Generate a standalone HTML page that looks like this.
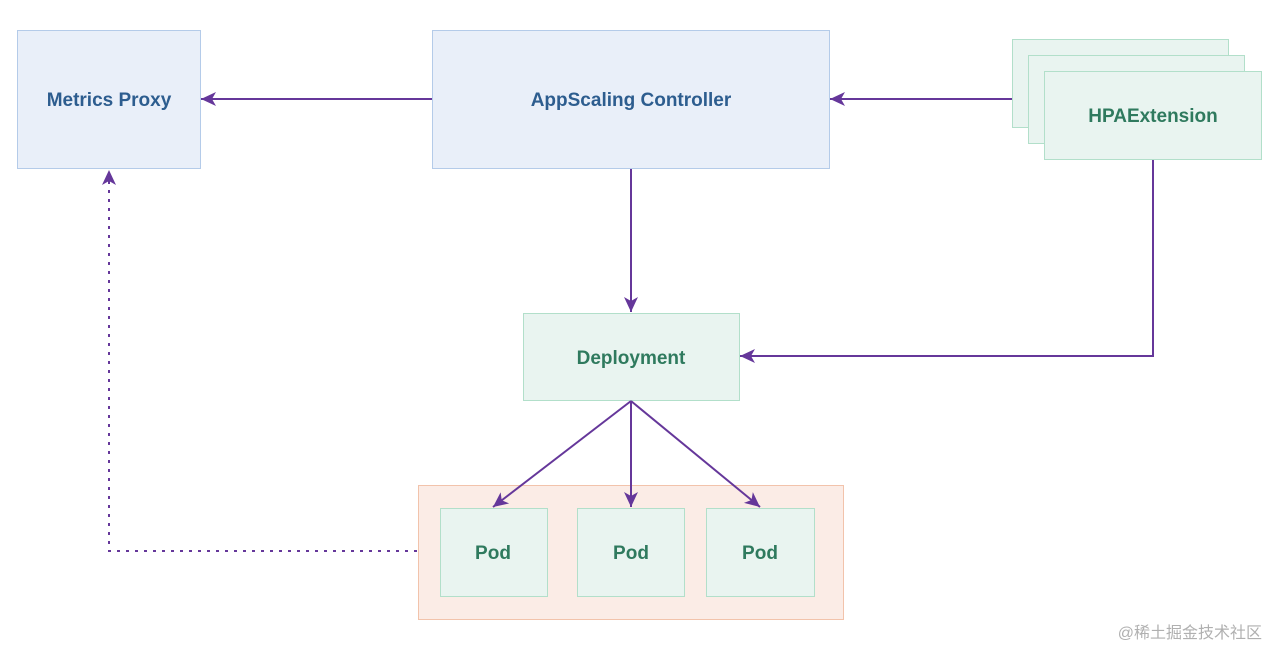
<!DOCTYPE html>
<html><head><meta charset="utf-8"><style>
html,body{margin:0;padding:0;background:#fff;width:1280px;height:661px;overflow:hidden}
text{font-family:"Liberation Sans","DejaVu Sans",sans-serif;font-weight:bold;font-size:19px}
</style></head><body>
<svg width="1280" height="661" viewBox="0 0 1280 661" xmlns="http://www.w3.org/2000/svg">
<defs><marker id="a" markerWidth="10" markerHeight="10" refX="9" refY="5" orient="auto" markerUnits="userSpaceOnUse"><path d="M0,0 L10,5 L0,10 L3,5 Z" fill="#65379a"/></marker>
<marker id="b" markerWidth="16" markerHeight="16" refX="15" refY="7" orient="auto" markerUnits="userSpaceOnUse"><path d="M0,0 L15,7 L0,14 L4,7 Z" fill="#65379a"/></marker></defs>
<rect x="17.5" y="30.5" width="183" height="138" fill="#e9eff9" stroke="#b4cbe9"/>
<text x="109" y="106" text-anchor="middle" fill="#2d5d8f">Metrics Proxy</text>
<rect x="432.5" y="30.5" width="397" height="138" fill="#e9eff9" stroke="#b4cbe9"/>
<text x="631" y="106" text-anchor="middle" fill="#2d5d8f">AppScaling Controller</text>
<rect x="1012.5" y="39.5" width="216" height="88" fill="#e9f4f0" stroke="#b2dfca"/>
<rect x="1028.5" y="55.5" width="216" height="88" fill="#e9f4f0" stroke="#b2dfca"/>
<rect x="1044.5" y="71.5" width="217" height="88" fill="#e9f4f0" stroke="#b2dfca"/>
<text x="1153" y="122" text-anchor="middle" fill="#2f7a5e">HPAExtension</text>
<rect x="523.5" y="313.5" width="216" height="87" fill="#e9f4f0" stroke="#b2dfca"/>
<text x="631" y="364" text-anchor="middle" fill="#2f7a5e">Deployment</text>
<rect x="418.5" y="485.5" width="425" height="134" fill="#fbece6" stroke="#f2c3ab"/>
<rect x="440.5" y="508.5" width="107" height="88" fill="#e9f4f0" stroke="#b2dfca"/>
<rect x="577.5" y="508.5" width="107" height="88" fill="#e9f4f0" stroke="#b2dfca"/>
<rect x="706.5" y="508.5" width="108" height="88" fill="#e9f4f0" stroke="#b2dfca"/>
<text x="493" y="559" text-anchor="middle" fill="#2f7a5e">Pod</text>
<text x="631" y="559" text-anchor="middle" fill="#2f7a5e">Pod</text>
<text x="760" y="559" text-anchor="middle" fill="#2f7a5e">Pod</text>
<g stroke="#65379a" stroke-width="2" fill="none">
<line x1="432" y1="99" x2="201" y2="99" marker-end="url(#b)"/>
<line x1="1012" y1="99" x2="830" y2="99" marker-end="url(#b)"/>
<line x1="631" y1="169" x2="631" y2="312" marker-end="url(#b)"/>
<polyline points="1153,160 1153,356 740,356" marker-end="url(#b)"/>
<line x1="631" y1="401" x2="493" y2="507" marker-end="url(#b)"/>
<line x1="631" y1="401" x2="631" y2="507" marker-end="url(#b)"/>
<line x1="631" y1="401" x2="760" y2="507" marker-end="url(#b)"/>
<polyline points="417,551 109,551 109,170" stroke-dasharray="3,6" marker-end="url(#b)"/>
</g>
<text x="1262" y="638" text-anchor="end" fill="#b0b0b0" style="font-family:'Liberation Sans','Noto Sans CJK SC',sans-serif;font-weight:normal;font-size:16px">@稀土掘金技术社区</text>
</svg>
</body></html>
